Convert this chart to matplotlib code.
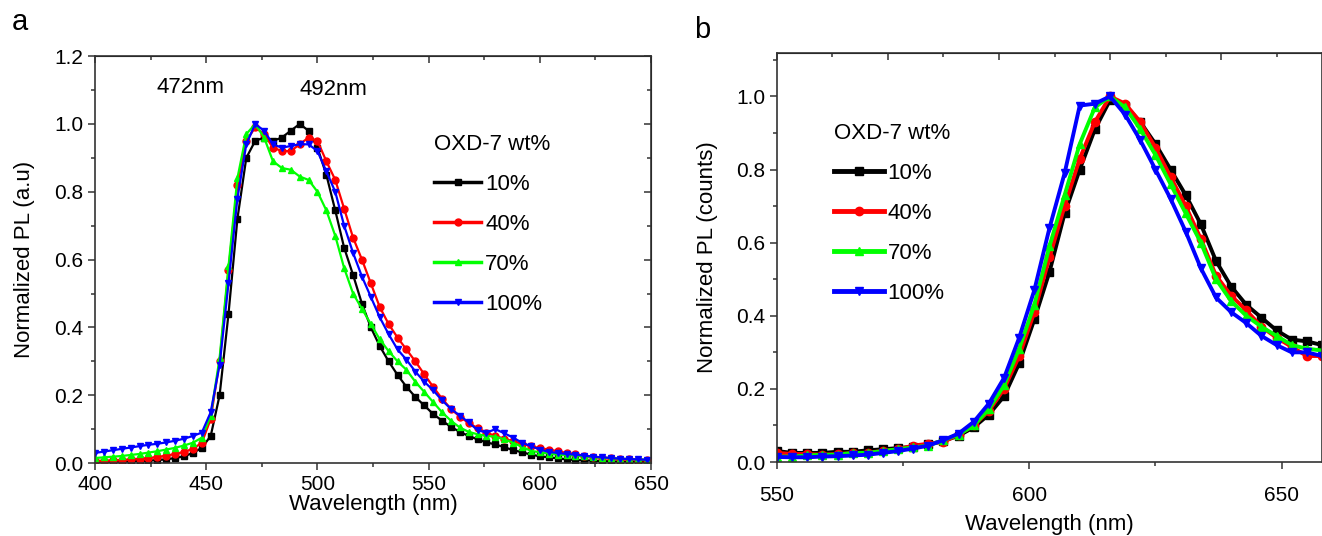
import numpy as np
import matplotlib
matplotlib.use("Agg")
import matplotlib.pyplot as plt
from matplotlib.ticker import MultipleLocator, FormatStrFormatter

plt.rcParams['font.family'] = ['Liberation Sans', 'DejaVu Sans']
plt.rcParams['font.size'] = 16

# ---- panel a data (blue-green PL, 4 nm steps) ----
wl_a = np.arange(400, 649, 4)
pl_a_10 = [0.003, 0.003, 0.004, 0.004, 0.005, 0.006, 0.007, 0.009, 0.011, 0.015,
           0.020, 0.030, 0.045, 0.080, 0.200, 0.440, 0.720, 0.900, 0.950, 0.960,
           0.950, 0.960, 0.980, 1.000, 0.980, 0.930, 0.850, 0.745, 0.635, 0.555,
           0.470, 0.400, 0.345, 0.300, 0.260, 0.225, 0.195, 0.170, 0.145, 0.125,
           0.107, 0.092, 0.080, 0.070, 0.061, 0.055, 0.047, 0.038, 0.032, 0.025,
           0.020, 0.017, 0.014, 0.011, 0.009, 0.008, 0.007, 0.006, 0.005, 0.004,
           0.004, 0.003, 0.003]
pl_a_40 = [0.006, 0.007, 0.008, 0.009, 0.011, 0.013, 0.015, 0.018, 0.022, 0.027,
           0.033, 0.042, 0.060, 0.130, 0.300, 0.570, 0.820, 0.950, 0.990, 0.970,
           0.930, 0.920, 0.920, 0.940, 0.960, 0.950, 0.890, 0.835, 0.750, 0.665,
           0.600, 0.530, 0.460, 0.410, 0.370, 0.335, 0.300, 0.262, 0.225, 0.190,
           0.160, 0.137, 0.118, 0.103, 0.090, 0.080, 0.072, 0.064, 0.057, 0.050,
           0.044, 0.040, 0.035, 0.030, 0.026, 0.022, 0.019, 0.016, 0.014, 0.012,
           0.011, 0.010, 0.009]
pl_a_70 = [0.015, 0.017, 0.019, 0.021, 0.024, 0.027, 0.031, 0.035, 0.040, 0.045,
           0.052, 0.060, 0.075, 0.140, 0.310, 0.580, 0.840, 0.970, 1.000, 0.960,
           0.890, 0.870, 0.865, 0.845, 0.835, 0.800, 0.745, 0.670, 0.575, 0.500,
           0.455, 0.410, 0.365, 0.330, 0.300, 0.275, 0.240, 0.210, 0.180, 0.150,
           0.125, 0.105, 0.092, 0.085, 0.080, 0.078, 0.070, 0.060, 0.048, 0.036,
           0.032, 0.028, 0.025, 0.024, 0.022, 0.020, 0.018, 0.016, 0.015, 0.013,
           0.012, 0.011, 0.010]
pl_a_100 = [0.030, 0.034, 0.038, 0.042, 0.046, 0.050, 0.054, 0.057, 0.061, 0.066,
            0.072, 0.080, 0.090, 0.150, 0.290, 0.530, 0.780, 0.940, 1.000, 0.980,
            0.940, 0.930, 0.935, 0.940, 0.940, 0.920, 0.860, 0.800, 0.700, 0.620,
            0.550, 0.490, 0.430, 0.380, 0.335, 0.305, 0.270, 0.240, 0.215, 0.185,
            0.160, 0.140, 0.120, 0.097, 0.090, 0.100, 0.088, 0.075, 0.060, 0.050,
            0.040, 0.033, 0.030, 0.027, 0.025, 0.022, 0.019, 0.017, 0.015, 0.013,
            0.012, 0.011, 0.010]

# ---- panel b data (red PL, 3 nm steps) ----
wl_b = np.arange(550, 659, 3)
pl_b_10 = [0.030, 0.025, 0.025, 0.025, 0.028, 0.028, 0.032, 0.035, 0.038, 0.042,
           0.048, 0.058, 0.072, 0.095, 0.130, 0.180, 0.270, 0.390, 0.520, 0.680,
           0.800, 0.910, 0.990, 0.975, 0.930, 0.870, 0.800, 0.730, 0.650, 0.550,
           0.480, 0.430, 0.395, 0.360, 0.335, 0.330, 0.320]
pl_b_40 = [0.025, 0.022, 0.022, 0.020, 0.022, 0.024, 0.026, 0.030, 0.035, 0.045,
           0.050, 0.055, 0.075, 0.100, 0.140, 0.200, 0.290, 0.410, 0.560, 0.700,
           0.830, 0.930, 1.000, 0.980, 0.930, 0.860, 0.780, 0.700, 0.610, 0.510,
           0.455, 0.415, 0.370, 0.340, 0.315, 0.290, 0.290]
pl_b_70 = [0.015, 0.015, 0.018, 0.020, 0.020, 0.025, 0.025, 0.030, 0.035, 0.040,
           0.045, 0.060, 0.075, 0.100, 0.145, 0.210, 0.310, 0.430, 0.590, 0.730,
           0.870, 0.970, 1.000, 0.970, 0.910, 0.840, 0.760, 0.680, 0.600, 0.500,
           0.440, 0.400, 0.370, 0.345, 0.320, 0.310, 0.305]
pl_b_100 = [0.014, 0.013, 0.013, 0.015, 0.016, 0.018, 0.020, 0.025, 0.030, 0.037,
            0.045, 0.060, 0.078, 0.110, 0.160, 0.230, 0.340, 0.470, 0.640, 0.790,
            0.975, 0.980, 1.000, 0.950, 0.880, 0.800, 0.720, 0.630, 0.530, 0.450,
            0.410, 0.380, 0.345, 0.320, 0.300, 0.300, 0.290]

labels = ['10%', '40%', '70%', '100%']
colors = ['#000000', '#ff0000', '#00ff00', '#0000ff']
markers = ['s', 'o', '^', 'v']

fig = plt.figure(figsize=(13.22, 5.36), dpi=100)
ax1 = fig.add_axes([0.0719, 0.136, 0.4206, 0.7593])
ax2 = fig.add_axes([0.5877, 0.138, 0.4123, 0.764])

# panel a
for y, lab, c, m in zip([pl_a_10, pl_a_40, pl_a_70, pl_a_100], labels, colors, markers):
    ax1.plot(wl_a, y, color=c, marker=m, ms=5, lw=1.6, label=lab)
ax1.set_xlim(400, 650)
ax1.set_ylim(0, 1.2)
ax1.xaxis.set_major_locator(MultipleLocator(50))
ax1.xaxis.set_minor_locator(MultipleLocator(25))
ax1.yaxis.set_major_locator(MultipleLocator(0.2))
ax1.yaxis.set_minor_locator(MultipleLocator(0.1))
ax1.yaxis.set_major_formatter(FormatStrFormatter('%.1f'))
ax1.set_xlabel('Wavelength (nm)', labelpad=0)
ax1.set_ylabel('Normalized PL (a.u)', labelpad=14)
ax1.text(443, 1.106, '472nm', ha='center', va='center', fontsize=16)
ax1.text(507, 1.103, '492nm', ha='center', va='center', fontsize=16)
leg1 = ax1.legend(title='OXD-7 wt%', loc='upper left', bbox_to_anchor=(0.59, 0.835),
                  frameon=False, handlelength=2.1, labelspacing=0.85,
                  handletextpad=0.2, borderpad=0, fontsize=16, title_fontsize=16)
leg1._legend_box.align = 'left'
for h in leg1.legend_handles:
    h.set_linewidth(2.5)

# panel b
for y, lab, c, m in zip([pl_b_10, pl_b_40, pl_b_70, pl_b_100], labels, colors, markers):
    ax2.plot(wl_b, y, color=c, marker=m, ms=6, lw=2.8, label=lab)
ax2.set_xlim(550, 658)
ax2.set_ylim(0, 1.12)
ax2.xaxis.set_major_locator(MultipleLocator(50))
ax2.xaxis.set_minor_locator(MultipleLocator(25))
ax2.yaxis.set_major_locator(MultipleLocator(0.2))
ax2.yaxis.set_minor_locator(MultipleLocator(0.1))
ax2.yaxis.set_major_formatter(FormatStrFormatter('%.1f'))
ax2.set_xlabel('Wavelength (nm)', labelpad=7)
ax2.set_ylabel('Normalized PL (counts)', labelpad=13)
leg2 = ax2.legend(title='OXD-7 wt%', loc='upper left', bbox_to_anchor=(0.085, 0.855),
                  frameon=False, handlelength=2.25, labelspacing=0.85,
                  handletextpad=0.15, borderpad=0, fontsize=16, title_fontsize=16)
leg2._legend_box.align = 'left'
for h in leg2.legend_handles:
    h.set_linewidth(3.5)

for ax in (ax1, ax2):
    for s in ax.spines.values():
        s.set_linewidth(1.2)
        s.set_color('#333333')
    ax.tick_params(which='both', direction='out', width=1.1, colors='#333333',
                   labelcolor='black', labelsize=15)
    ax.tick_params(which='major', length=5)
    ax.tick_params(which='minor', length=3)
ax2.tick_params(axis='x', which='major', pad=12)

# mirrored ticks (inward) on the top/right
top1 = ax1.secondary_xaxis('top')
top1.xaxis.set_major_locator(MultipleLocator(50))
top1.xaxis.set_minor_locator(MultipleLocator(25))
right1 = ax1.secondary_yaxis('right')
right1.yaxis.set_major_locator(MultipleLocator(0.2))
right1.yaxis.set_minor_locator(MultipleLocator(0.1))
top2 = ax2.secondary_xaxis('top')
top2.xaxis.set_major_locator(MultipleLocator(22))
top2.xaxis.set_minor_locator(MultipleLocator(11))
for sec in (top1, right1, top2):
    sec.tick_params(which='both', direction='in', labeltop=False, labelright=False,
                    width=1.1, colors='#333333')
    sec.tick_params(which='major', length=5)
    sec.tick_params(which='minor', length=3)

fig.text(12 / 1322, 1 - 22 / 536, 'a', fontsize=21, ha='left', va='center')
fig.text(694 / 1322, 1 - 30 / 536, 'b', fontsize=21, ha='left', va='center')

fig.savefig('out.png', dpi=100)
